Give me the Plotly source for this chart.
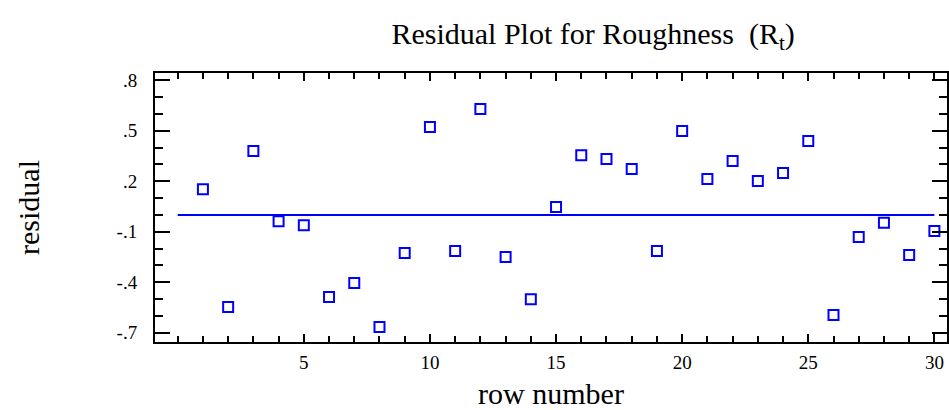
import plotly.graph_objects as go

row_number = list(range(1, 31))
residual = [0.152, -0.548, 0.380, -0.038, -0.062, -0.489, -0.405, -0.667, -0.227, 0.523,
            -0.215, 0.630, -0.251, -0.502, 0.047, 0.355, 0.333, 0.273, -0.215, 0.499,
            0.214, 0.321, 0.202, 0.249, 0.440, -0.596, -0.131, -0.046, -0.239, -0.096]
zero_line_x = [0, 30]
zero_line_y = [0, 0]
x_tick_vals = [5, 10, 15, 20, 25, 30]
x_tick_text = ["5", "10", "15", "20", "25", "30"]
y_tick_vals = [0.8, 0.5, 0.2, -0.1, -0.4, -0.7]
y_tick_text = [".8", ".5", ".2", "-.1", "-.4", "-.7"]

BLUE = "rgb(0,0,255)"
FONT = "Liberation Serif, Times New Roman, serif"

fig = go.Figure()
fig.add_trace(go.Scatter(x=zero_line_x, y=zero_line_y, mode="lines",
                         line=dict(color=BLUE, width=2), showlegend=False, hoverinfo="skip"))
fig.add_trace(go.Scatter(x=row_number, y=residual, mode="markers",
                         marker=dict(symbol="square-open", size=10, color=BLUE,
                                     line=dict(color=BLUE, width=2)),
                         showlegend=False))

fig.update_layout(
    width=949, height=410,
    margin=dict(l=155, r=0, t=73, b=68),
    paper_bgcolor="white", plot_bgcolor="white",
    font=dict(family=FONT, color="black", size=19),
    title=dict(text="Residual Plot for Roughness  (R<sub>t</sub>)",
               x=0.625, xref="container", xanchor="center",
               y=0.918, yref="container", yanchor="middle",
               font=dict(family=FONT, size=30, color="black")),
)

fig.update_xaxes(
    range=[-0.9, 30.5],
    tickmode="array", tickvals=x_tick_vals, ticktext=x_tick_text,
    ticks="inside", ticklen=8, tickwidth=2, tickcolor="black",
    minor=dict(ticks="inside", tick0=0, dtick=1, ticklen=6, tickwidth=2, tickcolor="black", showgrid=False),
    showline=True, linecolor="black", linewidth=2, mirror="allticks",
    showgrid=False, zeroline=False,
    ticklabelstandoff=2,
    tickfont=dict(family=FONT, size=19, color="black"),
    title=dict(text="row number", font=dict(family=FONT, size=30, color="black"), standoff=11),
)

fig.update_yaxes(
    range=[-0.756, 0.844],
    tickmode="array", tickvals=y_tick_vals, ticktext=y_tick_text,
    ticks="inside", ticklen=15, tickwidth=2, tickcolor="black",
    minor=dict(ticks="inside", tick0=0, dtick=0.1, ticklen=8, tickwidth=2, tickcolor="black", showgrid=False),
    showline=True, linecolor="black", linewidth=2, mirror="allticks",
    showgrid=False, zeroline=False,
    ticklabelstandoff=12,
    tickfont=dict(family=FONT, size=19, color="black"),
    title=dict(text="residual", font=dict(family=FONT, size=30, color="black"), standoff=68),
)

fig.write_html("out.html")
